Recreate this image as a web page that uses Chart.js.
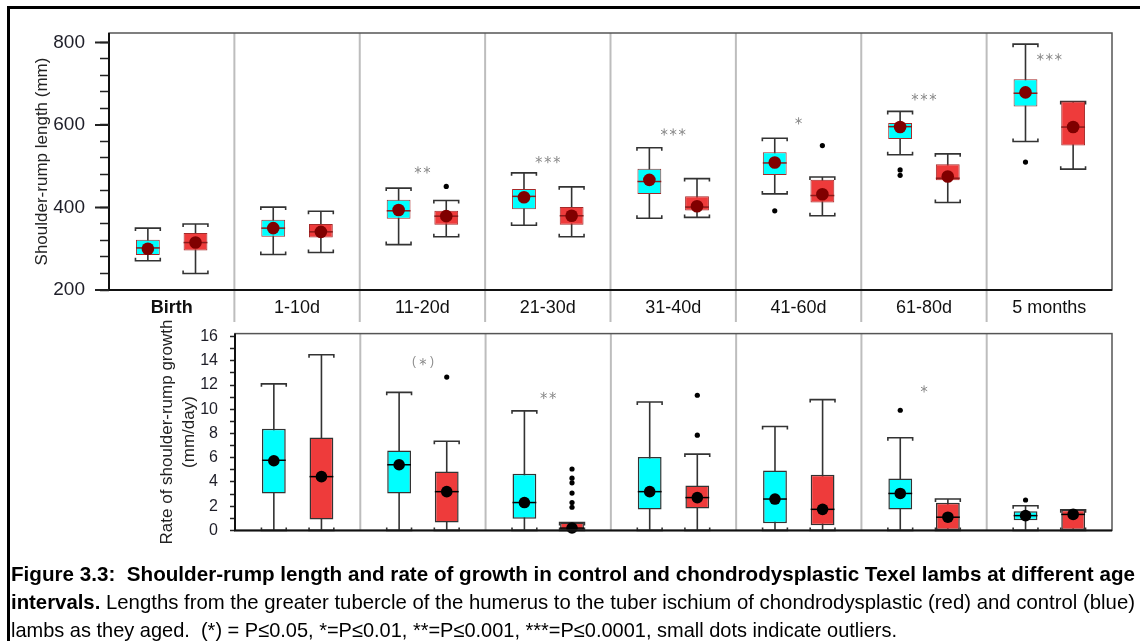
<!DOCTYPE html>
<html>
<head>
<meta charset="utf-8">
<script src="https://cdn.jsdelivr.net/npm/chart.js@4.4.1/dist/chart.umd.min.js"></script>
<style>
  body { margin: 0; background: #fff; width: 1140px; height: 641px; overflow: hidden; position: relative; }
  #frame { position: absolute; left: 7px; top: 6px; width: 1300px; height: 800px; border: 3px solid #000; box-sizing: border-box; }
  #lenChart { position: absolute; left: 0; top: 0; }
  #rateChart { position: absolute; left: 0; top: 312px; }
  #caption { position: absolute; left: 11px; top: 560px; width: 1124px; font-family: "Liberation Sans Narrow", "Arial Narrow", "Liberation Sans", sans-serif; font-size: 21px; line-height: 28px; color: #000; }
  #caption div { white-space: pre; overflow: visible; }
  #caption span { display: inline-block; transform-origin: 0 0; }
</style>
</head>
<body>
<div id="frame"></div>
<canvas id="lenChart" width="1140" height="322"></canvas>
<canvas id="rateChart" width="1140" height="240"></canvas>
<div id="caption">
  <div data-w="1124"><span><b>Figure 3.3:  Shoulder-rump length and rate of growth in control and chondrodysplastic Texel lambs at different age</b></span></div>
  <div data-w="1124"><span><b>intervals.</b> Lengths from the greater tubercle of the humerus to the tuber ischium of chondrodysplastic (red) and control (blue)</span></div>
  <div data-w="886"><span>lambs as they aged.  (*) = P≤0.05, *=P≤0.01, **=P≤0.001, ***=P≤0.0001, small dots indicate outliers.</span></div>
</div>
<script>
// Age groups
const lenLabels = ['Birth', '1-10d', '11-20d', '21-30d', '31-40d', '41-60d', '61-80d', '5 months'];
const rateLabels = ['1-10d', '11-20d', '21-30d', '31-40d', '41-60d', '61-80d', '5 months'];

// Shoulder-rump length (mm), control (blue)
const ctrlLenMin  = [271, 286, 310, 357, 374, 433, 528, 560];
const ctrlLenQ1   = [285, 329, 373, 396, 433, 479, 566, 645];
const ctrlLenMed  = [302, 350, 392, 427, 463, 508, 596, 677];
const ctrlLenQ3   = [322, 370, 419, 445, 494, 534, 605, 711];
const ctrlLenMax  = [350, 401, 447, 484, 545, 568, 633, 796];
const ctrlLenMean = [300, 350, 394, 425, 467, 509, 595, 679];
const ctrlLenOut  = [[], [], [], [], [], [392], [491, 478], [510]];

// Shoulder-rump length (mm), chondrodysplastic (red)
const chonLenMin  = [240, 291, 329, 329, 376, 380, 412, 493];
const chonLenQ1   = [296, 327, 358, 358, 393, 412, 466, 550];
const chonLenMed  = [315, 341, 379, 380, 401, 429, 471, 595];
const chonLenQ3   = [338, 360, 392, 401, 427, 467, 505, 657];
const chonLenMax  = [360, 391, 417, 450, 470, 474, 530, 657];
const chonLenMean = [315, 341, 379, 380, 403, 432, 475, 595];
const chonLenOut  = [[], [], [451], [], [], [550], [], []];

// Significance marks, length
const lenSig   = ['', '', '**', '***', '***', '*', '***', '***'];
const lenSigAt = [null, null, 491, 516, 583, 610, 668, 765];

// Rate of growth (mm/day), control (blue)
const ctrlRateMin  = [0, 0, 0, 0, 0, 0, 0];
const ctrlRateQ1   = [3.05, 3.05, 0.96, 1.73, 0.6, 1.73, 0.83];
const ctrlRateMed  = [5.79, 5.42, 2.3, 3.2, 2.59, 3.05, 1.22];
const ctrlRateQ3   = [8.4, 6.59, 4.68, 6.07, 4.94, 4.29, 1.58];
const ctrlRateMax  = [12.1, 11.4, 9.87, 10.6, 8.58, 7.65, 2.04];
const ctrlRateMean = [5.75, 5.42, 2.3, 3.2, 2.59, 3.05, 1.22];
const ctrlRateOut  = [[], [], [], [], [], [9.92], [2.51]];

// Rate of growth (mm/day), chondrodysplastic (red)
const chonRateMin  = [0, 0, 0, 0, 0, 0, 0];
const chonRateQ1   = [0.9, 0.65, 0, 1.81, 0.42, 0, 0];
const chonRateMed  = [4.44, 3.2, 0.19, 2.71, 1.74, 1.09, 1.32];
const chonRateQ3   = [7.67, 4.86, 0.65, 3.7, 4.6, 2.28, 1.71];
const chonRateMax  = [14.5, 7.36, 0.65, 6.3, 10.8, 2.59, 1.71];
const chonRateMean = [4.44, 3.2, 0.2, 2.71, 1.74, 1.09, 1.32];
const chonRateOut  = [[], [12.66], [5.07, 4.31, 3.93, 3.08, 2.3, 1.91], [11.16, 7.86], [], [], []];

// Significance marks, rate
const rateSig   = ['', '(*)', '**', '', '', '*', ''];
const rateSigAt = [null, 13.93, 11.14, null, null, 11.68, null];

const FONT = '"Liberation Sans", Arial, sans-serif';
const CYAN = '#00FFFF';
const RED = '#EE3B3B';

// draws a thin 6-armed asterisk
function star(ctx, cx, cy, r) {
  ctx.beginPath();
  for (let k = 0; k < 3; k++) {
    const a = Math.PI / 2 + k * Math.PI / 3;
    ctx.moveTo(cx - r * Math.cos(a), cy - r * Math.sin(a));
    ctx.lineTo(cx + r * Math.cos(a), cy + r * Math.sin(a));
  }
  ctx.stroke();
}

function drawSig(ctx, text, cx, cy) {
  const step = 9;
  const x0 = cx - (text.length - 1) * step / 2;
  ctx.strokeStyle = '#8c8c8c';
  ctx.fillStyle = '#8c8c8c';
  ctx.lineWidth = 1;
  ctx.font = '12px ' + FONT;
  ctx.textAlign = 'center';
  ctx.textBaseline = 'middle';
  [...text].forEach((ch, k) => {
    if (ch === '*') star(ctx, x0 + k * step, cy, 3.6);
    else ctx.fillText(ch, x0 + k * step, cy);
  });
}

// whiskers, medians, means, outliers, group dividers and frame
const boxExtras = {
  id: 'boxExtras',
  beforeDatasetsDraw(chart, args, o) {
    const { ctx, chartArea: a, scales: { x, y } } = chart;
    ctx.save();
    ctx.strokeStyle = '#bdbdbd';
    ctx.lineWidth = 2;
    const n = chart.data.labels.length;
    for (let i = 0; i < n - 1; i++) {
      const px = (x.getPixelForValue(i) + x.getPixelForValue(i + 1)) / 2;
      ctx.beginPath();
      ctx.moveTo(px, a.top);
      ctx.lineTo(px, o.dividersToEdge ? chart.height : a.bottom);
      ctx.stroke();
    }
    o.series.forEach((s, d) => {
      chart.getDatasetMeta(d).data.forEach((bar, i) => {
        const hw = bar.width / 2 + 0.5;
        const yl = y.getPixelForValue(s.min[i]);
        const yh = y.getPixelForValue(s.max[i]);
        ctx.strokeStyle = '#333';
        ctx.lineWidth = 1.6;
        ctx.beginPath();
        ctx.moveTo(bar.x, yl);
        ctx.lineTo(bar.x, yh);
        ctx.moveTo(bar.x - hw, yh + 3);
        ctx.lineTo(bar.x - hw, yh);
        ctx.lineTo(bar.x + hw, yh);
        ctx.lineTo(bar.x + hw, yh + 3);
        ctx.moveTo(bar.x - hw, yl - 3);
        ctx.lineTo(bar.x - hw, yl);
        ctx.lineTo(bar.x + hw, yl);
        ctx.lineTo(bar.x + hw, yl - 3);
        ctx.stroke();
      });
    });
    ctx.restore();
  },
  afterDatasetsDraw(chart, args, o) {
    const { ctx, chartArea: a, scales: { x, y } } = chart;
    ctx.save();
    o.series.forEach((s, d) => {
      chart.getDatasetMeta(d).data.forEach((bar, i) => {
        const hw = bar.width / 2;
        const ym = y.getPixelForValue(s.med[i]);
        ctx.strokeStyle = o.medianColor;
        ctx.lineWidth = 1.5;
        ctx.beginPath();
        ctx.moveTo(bar.x - hw, ym);
        ctx.lineTo(bar.x + hw, ym);
        ctx.stroke();
        ctx.fillStyle = o.meanColor;
        ctx.beginPath();
        ctx.arc(bar.x, y.getPixelForValue(s.mean[i]), o.meanRadius, 0, Math.PI * 2);
        ctx.fill();
        ctx.fillStyle = '#000';
        s.out[i].forEach(v => {
          ctx.beginPath();
          ctx.arc(bar.x, y.getPixelForValue(v), 2.6, 0, Math.PI * 2);
          ctx.fill();
        });
      });
    });
    o.sig.forEach((t, i) => {
      if (t) drawSig(ctx, t, x.getPixelForValue(i), y.getPixelForValue(o.sigAt[i]));
    });
    // plot frame
    ctx.strokeStyle = '#555';
    ctx.lineWidth = 1.5;
    ctx.strokeRect(a.left, a.top, a.right - a.left, a.bottom - a.top);
    ctx.strokeStyle = '#111';
    ctx.lineWidth = 2;
    ctx.beginPath();
    ctx.moveTo(a.left, a.top);
    ctx.lineTo(a.left, a.bottom);
    ctx.lineTo(a.right, a.bottom);
    ctx.stroke();
    // longer major ticks
    ctx.strokeStyle = '#222';
    y.ticks.forEach(t => {
      if (o.majorEvery && t.value % o.majorEvery === 0) {
        const py = y.getPixelForValue(t.value);
        ctx.beginPath();
        ctx.moveTo(a.left - o.majorLen, py);
        ctx.lineTo(a.left, py);
        ctx.stroke();
      }
    });
    ctx.restore();
  }
};

function boxes(q1, q3) {
  return q1.map((v, i) => [v, q3[i]]);
}

function makeChart(id, opts) {
  return new Chart(document.getElementById(id), {
    type: 'bar',
    data: {
      labels: opts.labels,
      datasets: [
        { label: 'Control', data: boxes(opts.ctrl.q1, opts.ctrl.q3), backgroundColor: CYAN, borderColor: opts.boxBorder, borderWidth: opts.boxBorderWidth, borderSkipped: false, categoryPercentage: 0.76, barPercentage: 0.5 },
        { label: 'Chondrodysplastic', data: boxes(opts.chon.q1, opts.chon.q3), backgroundColor: RED, borderColor: opts.boxBorder, borderWidth: opts.boxBorderWidth, borderSkipped: false, categoryPercentage: 0.76, barPercentage: 0.5 }
      ]
    },
    options: {
      responsive: false,
      animation: false,
      devicePixelRatio: 1,
      layout: { padding: opts.padding },
      plugins: {
        legend: { display: false },
        tooltip: { enabled: false },
        boxExtras: {
          series: [opts.ctrl, opts.chon],
          sig: opts.sig, sigAt: opts.sigAt,
          medianColor: opts.medianColor, meanColor: opts.meanColor, meanRadius: opts.meanRadius,
          dividersToEdge: opts.dividersToEdge,
          majorEvery: opts.majorEvery, majorLen: opts.majorLen
        }
      },
      scales: {
        x: opts.xScale,
        y: {
          min: opts.yMin, max: opts.yMax,
          border: { display: false },
          grid: { drawOnChartArea: false, tickLength: opts.tickLen, tickColor: '#222', tickWidth: 1.5 },
          ticks: {
            stepSize: opts.yStep, includeBounds: false, autoSkip: false, padding: opts.tickPad,
            color: '#1e1e28', font: { family: FONT, size: opts.tickSize },
            callback: v => (Math.round(v * 100) % (opts.labelEvery * 100) === 0 ? v : '')
          },
          title: { display: true, text: opts.yTitle, color: '#222', font: { family: FONT, size: 17, lineHeight: 1.3 }, padding: { top: opts.titlePad } },
          afterFit: s => { s.width = opts.yWidth; }
        }
      }
    },
    plugins: [boxExtras]
  });
}

makeChart('lenChart', {
  labels: lenLabels,
  ctrl: { min: ctrlLenMin, q1: ctrlLenQ1, med: ctrlLenMed, q3: ctrlLenQ3, max: ctrlLenMax, mean: ctrlLenMean, out: ctrlLenOut },
  chon: { min: chonLenMin, q1: chonLenQ1, med: chonLenMed, q3: chonLenQ3, max: chonLenMax, mean: chonLenMean, out: chonLenOut },
  sig: lenSig, sigAt: lenSigAt,
  boxBorder: '#a52a2a', boxBorderWidth: 1,
  medianColor: '#8b1a1a', meanColor: '#800000', meanRadius: 6.3,
  dividersToEdge: true,
  padding: { top: 33, right: 28, left: 0, bottom: 0 },
  yMin: 200, yMax: 823, yStep: 40, labelEvery: 200, majorEvery: 200, majorLen: 14,
  tickLen: 9, tickPad: 15, tickSize: 19,
  yTitle: 'Shoulder-rump length (mm)', titlePad: 31, yWidth: 109,
  xScale: {
    type: 'category',
    border: { display: false },
    grid: { display: false, drawTicks: false },
    ticks: {
      padding: 7, color: '#111',
      font: c => ({ family: FONT, size: 18, weight: c.index === 0 ? 'bold' : 'normal' })
    },
    afterFit: s => { s.height = 32; }
  }
});

makeChart('rateChart', {
  labels: rateLabels,
  ctrl: { min: ctrlRateMin, q1: ctrlRateQ1, med: ctrlRateMed, q3: ctrlRateQ3, max: ctrlRateMax, mean: ctrlRateMean, out: ctrlRateOut },
  chon: { min: chonRateMin, q1: chonRateQ1, med: chonRateMed, q3: chonRateQ3, max: chonRateMax, mean: chonRateMean, out: chonRateOut },
  sig: rateSig, sigAt: rateSigAt,
  boxBorder: '#333', boxBorderWidth: 1.5,
  medianColor: '#000', meanColor: '#000', meanRadius: 5.8,
  dividersToEdge: false,
  padding: { top: 10, right: 28, left: 0, bottom: 20 },
  yMin: 0, yMax: 16.25, yStep: 1, labelEvery: 2, majorEvery: 0, majorLen: 0,
  tickLen: 5, tickPad: 12, tickSize: 16,
  yTitle: ['Rate of shoulder-rump growth', '(mm/day)'], titlePad: 156, yWidth: 235,
  xScale: { type: 'category', display: false }
});

// caption lines: stretch or squeeze to the printed line widths
document.fonts.ready.then(() => {
  document.querySelectorAll('#caption div').forEach(line => {
    const span = line.firstElementChild;
    const target = Number(line.dataset.w);
    const w = span.getBoundingClientRect().width;
    if (w > target) {
      span.style.transform = 'scaleX(' + (target / w) + ')';
    } else {
      const gaps = (span.textContent.match(/ /g) || []).length;
      span.style.wordSpacing = ((target - w) / gaps) + 'px';
    }
  });
});
</script>
</body>
</html>
